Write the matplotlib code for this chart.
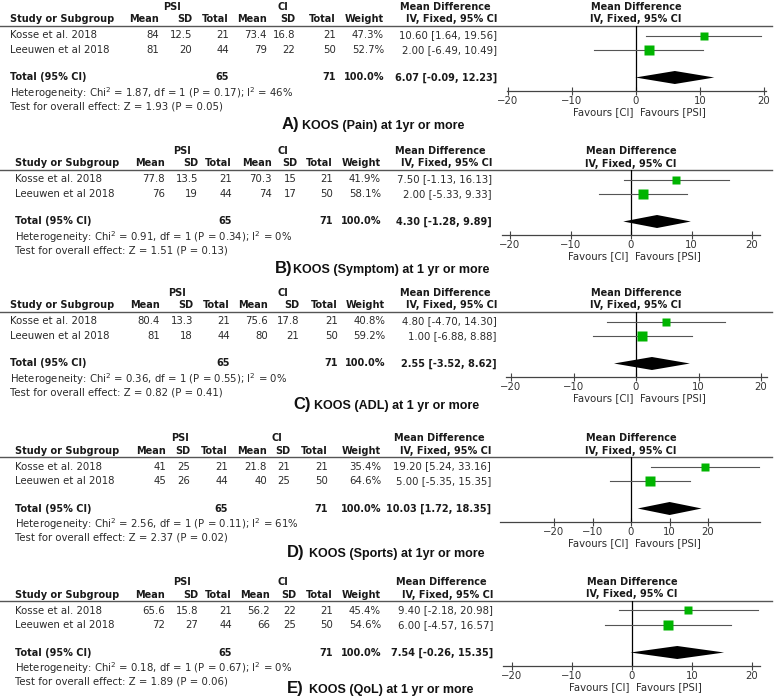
import matplotlib
matplotlib.use("Agg")
import matplotlib.pyplot as plt
import numpy as np

plt.rcParams["font.family"] = "DejaVu Sans"
plt.rcParams["mathtext.default"] = "regular"

W, H = 777, 699

################################################################################
# Data                                                                         #
################################################################################
studies = ["Kosse et al. 2018", "Leeuwen et al 2018"]
panel_letters = ["A)", "B)", "C)", "D)", "E)"]
panel_titles = [
    "KOOS (Pain) at 1yr or more",
    "KOOS (Symptom) at 1 yr or more",
    "KOOS (ADL) at 1 yr or more",
    "KOOS (Sports) at 1yr or more",
    "KOOS (QoL) at 1 yr or more",
]

psi_mean = [[84, 81], [77.8, 76], [80.4, 81], [41, 45], [65.6, 72]]
psi_sd = [[12.5, 20], [13.5, 19], [13.3, 18], [25, 26], [15.8, 27]]
psi_n = [21, 44]
ci_mean = [[73.4, 79], [70.3, 74], [75.6, 80], [21.8, 40], [56.2, 66]]
ci_sd = [[16.8, 22], [15, 17], [17.8, 21], [21, 25], [22, 25]]
ci_n = [21, 50]
weights = [[47.3, 52.7], [41.9, 58.1], [40.8, 59.2], [35.4, 64.6], [45.4, 54.6]]
md = [[10.60, 2.00], [7.50, 2.00], [4.80, 1.00], [19.20, 5.00], [9.40, 6.00]]
md_lo = [[1.64, -6.49], [-1.13, -5.33], [-4.70, -6.88], [5.24, -5.35], [-2.18, -4.57]]
md_hi = [[19.56, 10.49], [16.13, 9.33], [14.30, 8.88], [33.16, 15.35], [20.98, 16.57]]
tot_md = [6.07, 4.30, 2.55, 10.03, 7.54]
tot_lo = [-0.09, -1.28, -3.52, 1.72, -0.26]
tot_hi = [12.23, 9.89, 8.62, 18.35, 15.35]
chi2 = [1.87, 0.91, 0.36, 2.56, 0.18]
chi2_p = [0.17, 0.34, 0.55, 0.11, 0.67]
i2 = [46, 0, 0, 61, 0]
z_val = [1.93, 1.51, 0.82, 2.37, 1.89]
z_p = [0.05, 0.13, 0.41, 0.02, 0.06]
ticks = [-20, -10, 0, 10, 20]

################################################################################
# Layout (pixels)                                                              #
################################################################################
line_y = [26, 170, 312, 457, 601]
caption_y = [125, 268, 405, 552, 688]
letter_x = [282, 275, 293, 287, 287]
title_x = [302, 293, 314, 309, 309]
left_x = [10, 15, 10, 15, 15]
# right edges: mean1, sd1, total1, mean2, sd2, total2, weight, md text
cols = [
    [159, 192, 229, 267, 295, 336, 384, 497],
    [165, 198, 232, 272, 297, 333, 381, 492],
    [160, 193, 230, 268, 299, 338, 385, 497],
    [166, 190, 228, 267, 290, 328, 381, 491],
    [165, 198, 232, 270, 296, 333, 381, 493],
]
grp_x = [(172, 283), (182, 283), (177, 283), (180, 277), (182, 283)]
# forest: zero px, px per unit, axis start px, axis end px
forest = [
    (636, 6.4, 507, 766),
    (631, 6.05, 502, 760),
    (636, 6.25, 506, 767),
    (631, 3.85, 500, 760),
    (632, 6.0, 503, 760),
]

FS = 7.3
FSB = 7.0
TXT = "#2a2a2a"
GREEN = "#00b400"

fig = plt.figure(figsize=(W / 100, H / 100), dpi=100)
base = fig.add_axes([0, 0, 1, 1])
base.set_xlim(0, W)
base.set_ylim(H, 0)
base.axis("off")


def g(v):
    return f"{v:g}"


for p in range(5):
    L = line_y[p]
    c = cols[p]
    lx = left_x[p]
    bold = dict(fontsize=FSB, fontweight="bold", color="#1a1a1a", va="center")
    norm = dict(fontsize=FS, color=TXT, va="center")

    # group headers
    base.text(grp_x[p][0], L - 19, "PSI", ha="center", **bold)
    base.text(grp_x[p][1], L - 19, "CI", ha="center", **bold)
    base.text(c[7] - 52, L - 19, "Mean Difference", ha="center", **bold)

    # column headers
    hy = L - 6.5
    base.text(lx, hy, "Study or Subgroup", ha="left", **bold)
    for x, lab in zip(c[:7], ["Mean", "SD", "Total", "Mean", "SD", "Total", "Weight"]):
        base.text(x, hy, lab, ha="right", **bold)
    base.text(c[7], hy, "IV, Fixed, 95% CI", ha="right", **bold)
    base.plot([0, 772], [L, L], color="#555555", lw=1.0)

    # study rows
    for i in range(2):
        y = L + 9.5 + 14.5 * i
        base.text(lx, y, studies[i], ha="left", **norm)
        vals = [g(psi_mean[p][i]), g(psi_sd[p][i]), str(psi_n[i]),
                g(ci_mean[p][i]), g(ci_sd[p][i]), str(ci_n[i]),
                f"{weights[p][i]:.1f}%",
                f"{md[p][i]:.2f} [{md_lo[p][i]:.2f}, {md_hi[p][i]:.2f}]"]
        for x, v in zip(c, vals):
            base.text(x, y, v, ha="right", **norm)

    # total row
    ty = L + 51.5
    base.text(lx, ty, "Total (95% CI)", ha="left", **bold)
    base.text(c[2], ty, str(sum(psi_n)), ha="right", **bold)
    base.text(c[5], ty, str(sum(ci_n)), ha="right", **bold)
    base.text(c[6], ty, "100.0%", ha="right", **bold)
    base.text(c[7], ty, f"{tot_md[p]:.2f} [{tot_lo[p]:.2f}, {tot_hi[p]:.2f}]", ha="right", **bold)

    base.text(lx, L + 67,
              f"Heterogeneity: Chi$^{{2}}$ = {chi2[p]:.2f}, df = 1 (P = {chi2_p[p]:.2f}); I$^{{2}}$ = {i2[p]}%",
              ha="left", **norm)
    base.text(lx, L + 80.5, f"Test for overall effect: Z = {z_val[p]:.2f} (P = {z_p[p]:.2f})", ha="left", **norm)

    # caption
    cb = caption_y[p] + 4.5
    base.text(letter_x[p], cb, panel_letters[p], ha="left", va="baseline",
              fontsize=12, fontweight="bold", family="Liberation Sans", color="#111111")
    base.text(title_x[p], cb, panel_titles[p], ha="left", va="baseline",
              fontsize=9, fontweight="bold", family="Liberation Sans", color="#111111")

    # forest plot
    zero, sc, x0, x1 = forest[p]
    bottom = L + 65
    ax = fig.add_axes([x0 / W, 1 - bottom / H, (x1 - x0) / W, (bottom - L) / H])
    ax.set_xlim((x0 - zero) / sc, (x1 - zero) / sc)
    ax.set_ylim(bottom, L)
    ax.patch.set_alpha(0)
    for s in ["left", "right", "top"]:
        ax.spines[s].set_visible(False)
    ax.spines["bottom"].set_color("#444444")
    ax.spines["bottom"].set_linewidth(0.9)
    ax.set_yticks([])
    ax.set_xticks(ticks)
    ax.tick_params(axis="x", direction="inout", length=6, width=0.8, color="#444444",
                   labelsize=FS, labelcolor="#333333", pad=0.5)
    ax.axvline(0, color="black", lw=0.9)

    for i in range(2):
        y = L + 9.5 + 14.5 * i
        ax.plot([md_lo[p][i], md_hi[p][i]], [y, y], color="#555555", lw=0.8, clip_on=False)
        side = 12.5 * np.sqrt(weights[p][i] / 100.0)
        ax.plot(md[p][i], y, "s", ms=side * 0.72, color=GREEN, mec="none", clip_on=False)

    ax.fill([tot_lo[p], tot_md[p], tot_hi[p], tot_md[p]],
            [ty, ty - 6.5, ty, ty + 6.5], color="black", lw=0)

    ax.text(0, L - 19, "Mean Difference", ha="center", **bold)
    ax.text(0, L - 6.5, "IV, Fixed, 95% CI", ha="center", **bold)
    ax.text(0.6 / sc * 5, L + 86, "Favours [CI]  Favours [PSI]", ha="center", **norm)

fig.savefig("out.png", dpi=100, facecolor="white")
